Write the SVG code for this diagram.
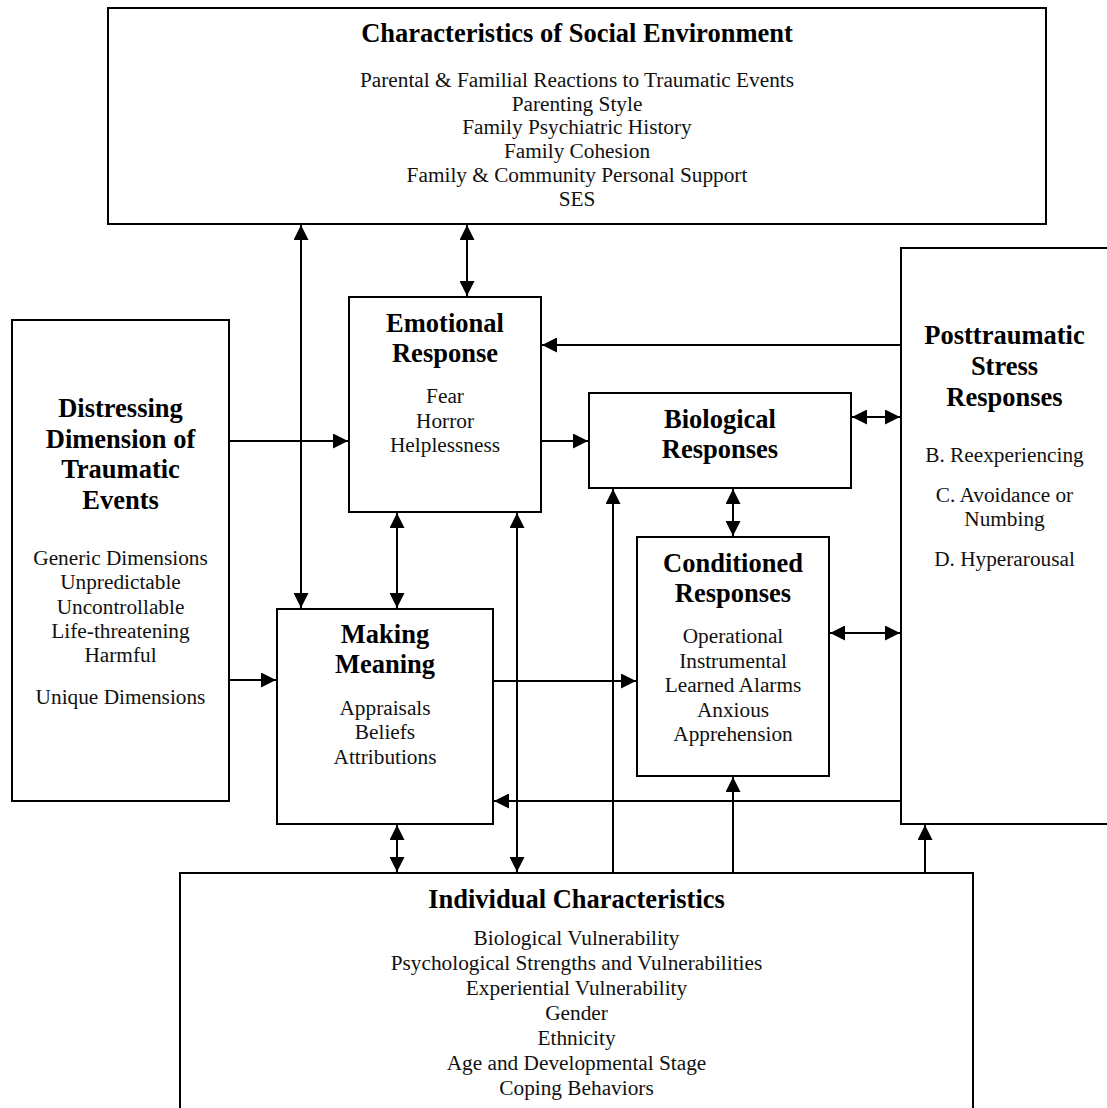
<svg xmlns="http://www.w3.org/2000/svg" width="1107" height="1108" viewBox="0 0 1107 1108">
<style>
.box{fill:#fff;stroke:#000;stroke-width:2}
.t{font-family:"Liberation Serif","Times New Roman",serif;font-size:26.5px;font-weight:bold;text-anchor:middle;fill:#000}
.b{font-family:"Liberation Serif","Times New Roman",serif;font-size:21.3px;text-anchor:middle;fill:#111}
.c line{stroke:#000;stroke-width:2}
.e{marker-end:url(#ah)}
.d{marker-start:url(#ah);marker-end:url(#ah)}
</style>
<defs>
<marker id="ah" markerUnits="userSpaceOnUse" markerWidth="15" markerHeight="15" refX="15" refY="7.5" orient="auto-start-reverse" viewBox="0 0 15 15">
<path d="M0,0 L15,7.5 L0,15 z" fill="#000"/>
</marker>
</defs>
<rect width="1107" height="1108" fill="#fff"/>

<g id="social">
<rect class="box" x="108" y="8" width="938" height="216"/>
<text class="t" x="577" y="42">Characteristics of Social Environment</text>
<text class="b" x="577" y="87">Parental &amp; Familial Reactions to Traumatic Events</text>
<text class="b" x="577" y="110.5">Parenting Style</text>
<text class="b" x="577" y="134">Family Psychiatric History</text>
<text class="b" x="577" y="158">Family Cohesion</text>
<text class="b" x="577" y="182">Family &amp; Community Personal Support</text>
<text class="b" x="577" y="206">SES</text>
</g>

<g id="emotional">
<rect class="box" x="349" y="297" width="192" height="215"/>
<text class="t" x="445" y="332">Emotional</text>
<text class="t" x="445" y="362">Response</text>
<text class="b" x="445" y="403">Fear</text>
<text class="b" x="445" y="427.5">Horror</text>
<text class="b" x="445" y="452">Helplessness</text>
</g>

<g id="distressing">
<rect class="box" x="12" y="320" width="217" height="481"/>
<text class="t" x="120.5" y="417">Distressing</text>
<text class="t" x="120.5" y="447.5">Dimension of</text>
<text class="t" x="120.5" y="478">Traumatic</text>
<text class="t" x="120.5" y="508.5">Events</text>
<text class="b" x="120.5" y="565">Generic Dimensions</text>
<text class="b" x="120.5" y="589">Unpredictable</text>
<text class="b" x="120.5" y="613.5">Uncontrollable</text>
<text class="b" x="120.5" y="638">Life-threatening</text>
<text class="b" x="120.5" y="662">Harmful</text>
<text class="b" x="120.5" y="704">Unique Dimensions</text>
</g>

<g id="meaning">
<rect class="box" x="277" y="609" width="216" height="215"/>
<text class="t" x="385" y="643">Making</text>
<text class="t" x="385" y="673">Meaning</text>
<text class="b" x="385" y="714.5">Appraisals</text>
<text class="b" x="385" y="739">Beliefs</text>
<text class="b" x="385" y="764">Attributions</text>
</g>

<g id="biological">
<rect class="box" x="589" y="393" width="262" height="95"/>
<text class="t" x="720" y="428">Biological</text>
<text class="t" x="720" y="458">Responses</text>
</g>

<g id="conditioned">
<rect class="box" x="637" y="537" width="192" height="239"/>
<text class="t" x="733" y="572">Conditioned</text>
<text class="t" x="733" y="602">Responses</text>
<text class="b" x="733" y="643">Operational</text>
<text class="b" x="733" y="667.5">Instrumental</text>
<text class="b" x="733" y="692">Learned Alarms</text>
<text class="b" x="733" y="716.5">Anxious</text>
<text class="b" x="733" y="741">Apprehension</text>
</g>

<g id="ptsd">
<rect class="box" x="901" y="248" width="230" height="576"/>
<text class="t" x="1004.5" y="344">Posttraumatic</text>
<text class="t" x="1004.5" y="375">Stress</text>
<text class="t" x="1004.5" y="405.5">Responses</text>
<text class="b" x="1004.5" y="462">B. Reexperiencing</text>
<text class="b" x="1004.5" y="502">C. Avoidance or</text>
<text class="b" x="1004.5" y="526">Numbing</text>
<text class="b" x="1004.5" y="566">D. Hyperarousal</text>
</g>

<g id="individual">
<rect class="box" x="180" y="873" width="793" height="260"/>
<text class="t" x="576.5" y="908">Individual Characteristics</text>
<text class="b" x="576.5" y="945">Biological Vulnerability</text>
<text class="b" x="576.5" y="970">Psychological Strengths and Vulnerabilities</text>
<text class="b" x="576.5" y="995">Experiential Vulnerability</text>
<text class="b" x="576.5" y="1020">Gender</text>
<text class="b" x="576.5" y="1045">Ethnicity</text>
<text class="b" x="576.5" y="1070">Age and Developmental Stage</text>
<text class="b" x="576.5" y="1095">Coping Behaviors</text>
</g>

<g id="connectors" class="c">
<line class="d" x1="301" y1="225" x2="301" y2="608"/>
<line class="d" x1="467" y1="225" x2="467" y2="296"/>
<line class="e" x1="901" y1="345" x2="542" y2="345"/>
<line class="e" x1="229" y1="441" x2="348" y2="441"/>
<line class="e" x1="541" y1="441" x2="588" y2="441"/>
<line class="d" x1="852" y1="417" x2="900" y2="417"/>
<line class="d" x1="733" y1="489" x2="733" y2="536"/>
<line class="d" x1="397" y1="513" x2="397" y2="608"/>
<line class="d" x1="517" y1="513" x2="517" y2="872"/>
<line class="e" x1="613" y1="873" x2="613" y2="489"/>
<line class="e" x1="229" y1="680" x2="276" y2="680"/>
<line class="e" x1="493" y1="681" x2="636" y2="681"/>
<line class="d" x1="830" y1="633" x2="900" y2="633"/>
<line class="e" x1="901" y1="801" x2="494" y2="801"/>
<line class="d" x1="397" y1="825" x2="397" y2="872"/>
<line class="e" x1="733" y1="873" x2="733" y2="777"/>
<line class="e" x1="925" y1="873" x2="925" y2="825"/>
</g>
</svg>
